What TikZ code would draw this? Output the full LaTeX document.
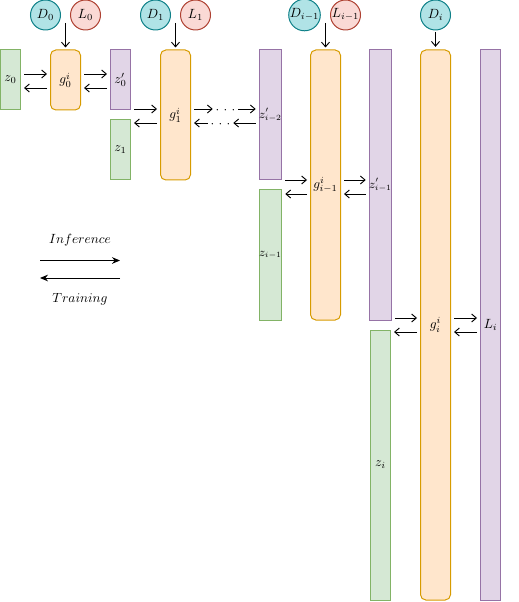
\documentclass[tikz,border=0pt]{standalone}
\usetikzlibrary{arrows.meta,calc}
\definecolor{gfill}{HTML}{D5E8D4}\definecolor{gline}{HTML}{82B366}
\definecolor{ofill}{HTML}{FFE6CC}\definecolor{oline}{HTML}{D79B00}
\definecolor{pfill}{HTML}{E1D5E7}\definecolor{pline}{HTML}{9673A6}
\definecolor{tfill}{HTML}{B0E3E6}\definecolor{tline}{HTML}{0E8088}
\definecolor{rfill}{HTML}{FAD9D5}\definecolor{rline}{HTML}{AE4132}
\newcommand{\mydots}{$\cdot$\hspace{3.2pt}$\cdot$\hspace{3.2pt}$\cdot$}
\begin{document}
\begin{tikzpicture}[x=0.75pt,y=-0.75pt,
  zg/.style={draw=gline,fill=gfill,line width=0.75pt,minimum width=15pt,inner sep=0pt},
  zp/.style={draw=pline,fill=pfill,line width=0.75pt,minimum width=15pt,inner sep=0pt},
  gbox/.style={draw=oline,fill=ofill,line width=0.75pt,rounded corners=4pt,minimum width=22.5pt,inner sep=0pt},
  dcirc/.style={circle,draw=tline,fill=tfill,line width=0.75pt,minimum size=22.5pt,inner sep=0pt},
  lcirc/.style={circle,draw=rline,fill=rfill,line width=0.75pt,minimum size=22.5pt,inner sep=0pt},
  fw/.style={-{Straight Barb[length=3.5pt,width=6pt]},line width=0.7pt},
  leg/.style={-{Stealth[length=6pt,width=5pt]},line width=0.7pt},
  dotsn/.style={inner sep=2pt}]
\useasboundingbox (0,0) rectangle (518,602);
% circles
\node[dcirc] (D0) at (45.5,15) {$D_0$};
\node[lcirc] (L0) at (85.5,15) {$L_0$};
\node[dcirc] (D1) at (155.5,15) {$D_1$};
\node[lcirc] (L1) at (195.5,15) {$L_1$};
\node[dcirc] (Di1) at (304.5,15) {$D_{i-1}$};
\node[lcirc] (Li1) at (345.5,15) {$L_{i-1}$};
\node[dcirc] (Di) at (435.5,15) {$D_i$};
% boxes
\node[zg,minimum height=45pt] (z0) at (10.5,80) {$z_0$};
\node[gbox,minimum height=45pt] (g0) at (65.5,80) {$g^i_0$};
\node[zp,minimum height=45pt] (z0p) at (120.5,80) {$z'_0$};
\node[zg,minimum height=45pt] (z1) at (120.5,150) {$z_1$};
\node[gbox,minimum height=97.5pt] (g1) at (175.5,115) {$g^i_1$};
\node[zp,minimum height=97.5pt] (zi2p) at (270.5,115) {\small$z'_{i-2}$};
\node[zg,minimum height=97.5pt] (zi1) at (270.5,255) {\small$z_{i-1}$};
\node[gbox,minimum height=202.5pt] (gi1) at (325.5,185) {$g^i_{i-1}$};
\node[zp,minimum height=202.5pt] (zi1p) at (380.5,185) {\small$z'_{i-1}$};
\node[zg,minimum height=202.5pt] (zi) at (380.5,465) {$z_i$};
\node[gbox,minimum height=412.5pt] (gi) at (435.5,325) {$g^i_i$};
\node[zp,minimum height=412.5pt] (Li) at (490.5,325) {$L_i$};
% row helpers
\coordinate (r74) at (0,74);  \coordinate (r88) at (0,88);
\coordinate (r109) at (0,109); \coordinate (r123) at (0,123);
\coordinate (r180) at (0,180); \coordinate (r194) at (0,194);
\coordinate (r318) at (0,318); \coordinate (r332) at (0,332);
% vertical inputs
\coordinate (t0) at (65.5,23);
\coordinate (t1) at (175.5,23);
\coordinate (t2) at (325.5,23);
\draw[fw,shorten >=1.5pt] (t0) -- (g0);
\draw[fw,shorten >=1.5pt] (t1) -- (g1);
\draw[fw,shorten >=1.5pt] (t2) -- (gi1);
\draw[fw,shorten >=2pt,shorten <=1.5pt] (Di) -- (gi);
% row 1
\draw[fw] ($(z0.east|-r74)+(3,0)$) -- ($(g0.west|-r74)+(-3,0)$);
\draw[fw] ($(g0.west|-r88)+(-3,0)$) -- ($(z0.east|-r88)+(3,0)$);
\draw[fw] ($(g0.east|-r74)+(3,0)$) -- ($(z0p.west|-r74)+(-3,0)$);
\draw[fw] ($(z0p.west|-r88)+(-3,0)$) -- ($(g0.east|-r88)+(3,0)$);
% row 2
\draw[fw] ($(z0p.east|-r109)+(3,0)$) -- ($(g1.west|-r109)+(-3,0)$);
\draw[fw] ($(g1.west|-r123)+(-3,0)$) -- ($(z1.east|-r123)+(3,0)$);
\node[dotsn,inner ysep=0pt] (dotsf) at (225.5,110.5) {\mydots};
\node[dotsn,inner ysep=0pt] (dotsb) at (220.5,124.5) {\mydots};
\draw[fw] ($(g1.east|-r109)+(3,0)$) -- (dotsf.west|-r109);
\draw[fw] (dotsf.east|-r109) -- ($(zi2p.west|-r109)+(-3,0)$);
\draw[fw] ($(zi2p.west|-r123)+(-3,0)$) -- (dotsb.east|-r123);
\draw[fw] (dotsb.west|-r123) -- ($(g1.east|-r123)+(3,0)$);
% row 3
\draw[fw] ($(zi2p.east|-r180)+(3,0)$) -- ($(gi1.west|-r180)+(-3,0)$);
\draw[fw] ($(gi1.west|-r194)+(-3,0)$) -- ($(zi1.east|-r194)+(3,0)$);
\draw[fw] ($(gi1.east|-r180)+(3,0)$) -- ($(zi1p.west|-r180)+(-3,0)$);
\draw[fw] ($(zi1p.west|-r194)+(-3,0)$) -- ($(gi1.east|-r194)+(3,0)$);
% row 4
\draw[fw] ($(zi1p.east|-r318)+(3,0)$) -- ($(gi.west|-r318)+(-3,0)$);
\draw[fw] ($(gi.west|-r332)+(-3,0)$) -- ($(zi.east|-r332)+(3,0)$);
\draw[fw] ($(gi.east|-r318)+(3,0)$) -- ($(Li.west|-r318)+(-3,0)$);
\draw[fw] ($(Li.west|-r332)+(-3,0)$) -- ($(gi.east|-r332)+(3,0)$);
% legend
\node (inf) at (80,240) {$Inference$};
\node (trn) at (80,299) {$Training$};
\coordinate (la) at (40,260.5); \coordinate (lb) at (120,260.5);
\coordinate (lc) at (120,278); \coordinate (ld) at (40,278);
\draw[leg] (la) -- (lb);
\draw[leg] (lc) -- (ld);
\end{tikzpicture}
\end{document}
